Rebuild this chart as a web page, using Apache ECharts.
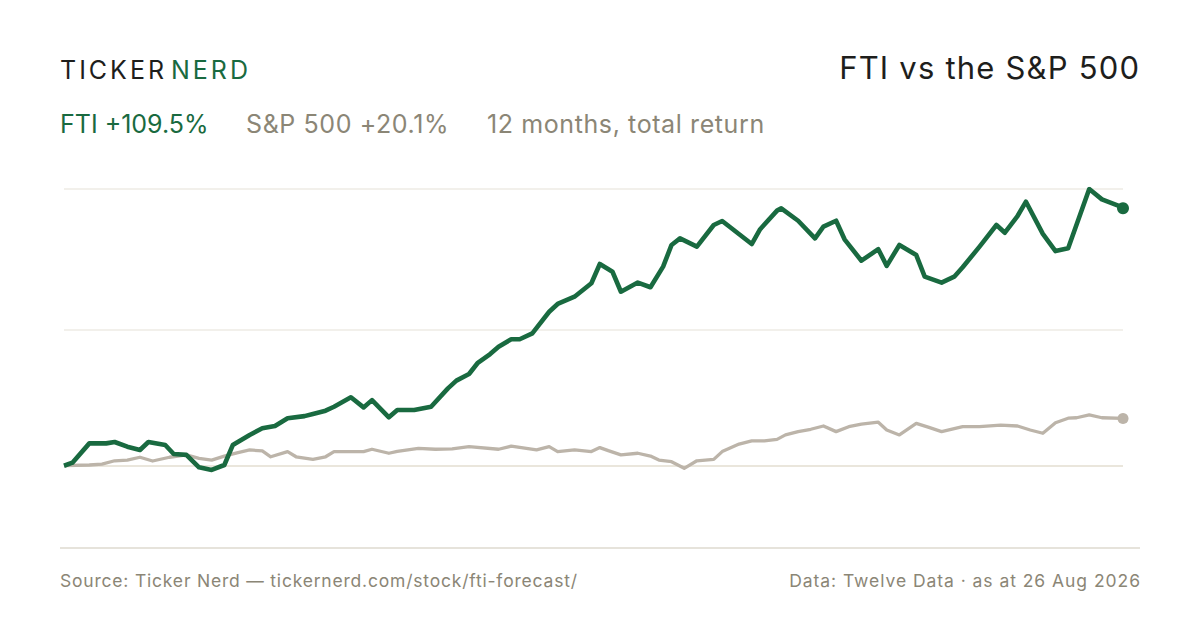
<!DOCTYPE html>
<html>
<head>
<meta charset="utf-8">
<script src="https://cdn.jsdelivr.net/npm/echarts@6/dist/echarts.min.js"></script>
<style>
  html, body { margin: 0; padding: 0; background: #ffffff; }
  #chart { width: 1200px; height: 630px; }
</style>
</head>
<body>
<div id="chart"></div>
<script>
// Trading-day index (0 = start of 12-month window) and cumulative total return, %
const ftiDays = [0,2,6,10,12,15,18,20,24,26,29,32,35,38,40,44,47,50,53,57,59,62,64,68,71,73,77,79,83,87,91,93,96,98,101,103,106,108,111,115,117,121,125,127,130,132,136,139,142,144,146,150,154,156,163,165,169,170,174,178,180,183,185,189,193,195,198,202,204,208,211,213,217,221,223,226,228,232,235,238,243,246,250,251];
const ftiValues = [0,1.3,9.5,9.5,10.1,8.1,6.7,10.1,8.8,5.0,4.6,-0.7,-1.8,0.3,8.8,13.1,15.9,16.9,20.2,21.1,22.0,23.4,25.1,29.1,24.8,27.9,20.6,23.7,23.7,25.1,32.9,36.2,39.0,43.6,47.5,50.6,53.8,53.8,56.3,65.5,68.8,71.9,77.6,85.8,82.5,74.0,77.9,75.9,84.7,93.9,96.7,93.2,102.4,104.1,94.3,100.6,108.5,109.5,104.2,96.7,101.7,104.2,96.3,87.2,92.1,85.0,93.9,89.6,80.4,77.9,80.4,84.4,93.2,102.4,99.1,106.2,112.3,98.6,91.3,92.5,117.7,113.3,110.5,109.5];

const spDays = [0,6,9,12,15,18,21,25,29,32,35,38,41,44,47,49,53,55,59,62,64,71,73,77,79,84,88,92,96,103,106,112,115,117,121,125,127,129,132,136,139,141,144,147,150,154,156,160,163,166,169,171,174,177,180,183,186,189,193,195,198,202,205,208,213,217,222,226,229,232,235,238,240,243,246,251];
const spValues = [0,0.3,0.7,2.1,2.4,3.6,2.0,3.6,4.6,3.1,2.4,4.1,5.5,6.7,6.3,3.8,6.0,3.8,2.7,3.8,6.0,6.0,7.0,5.3,6.1,7.4,7.0,7.2,8.1,7.0,8.3,6.7,8.1,6.0,6.7,6.0,7.7,6.4,4.6,5.3,4.1,2.4,1.7,-1.1,2.1,2.7,6.0,9.2,10.6,10.6,11.2,13.1,14.5,15.5,16.9,14.5,16.6,17.7,18.5,15.2,13.1,18.0,16.3,14.5,16.6,16.6,17.3,16.9,15.2,13.8,18.3,20.2,20.4,21.6,20.4,20.1];

// Horizontal reference lines (% return)
const gridTicks = [0, 58, 117.7];

const ftiLabel = 'FTI +109.5%';
const spLabel = 'S&P 500 +20.1%';
const periodLabel = '12 months, total return';
const titleText = 'FTI vs the S&P 500';
const sourceText = 'Source: Ticker Nerd \u2014 tickernerd.com/stock/fti-forecast/';
const dataText = 'Data: Twelve Data \u00b7 as at 26 Aug 2026';

const GREEN = '#196a40';
const GREY = '#bcb4a9';
const MUTED = '#8b8676';
const FONT = 'Inter, "Noto Sans", sans-serif';

const ftiData = ftiDays.map((d, i) => [d, ftiValues[i]]);
const spData = spDays.map((d, i) => [d, spValues[i]]);

const chart = echarts.init(document.getElementById('chart'), null, { renderer: 'svg' });

function lastOnly(size, n) {
  return function (val, params) { return params.dataIndex === n - 1 ? size : 0; };
}

function txt(text, x, y, size, color, align) {
  return {
    type: 'text', x: x, y: y, silent: true,
    style: { text: text, font: '400 ' + size + 'px ' + FONT, fill: color, textAlign: align || 'left', verticalAlign: 'middle' }
  };
}

chart.setOption({
  backgroundColor: '#ffffff',
  animation: false,
  grid: { left: 64, right: 77, top: 189, bottom: 82 },
  xAxis: { type: 'value', min: 0, max: 251, show: false, splitLine: { show: false } },
  yAxis: { type: 'value', min: -35, max: 117.7, show: false, splitLine: { show: false } },
  series: [
    {
      name: 'S&P 500',
      type: 'line',
      data: spData,
      z: 3,
      silent: true,
      showSymbol: true,
      symbol: 'circle',
      symbolSize: lastOnly(11, spData.length),
      itemStyle: { color: GREY },
      lineStyle: { color: GREY, width: 3.3, join: 'round' },
      markLine: {
        silent: true,
        z: 1,
        symbol: 'none',
        label: { show: false },
        data: gridTicks.map(v => ({
          yAxis: v,
          lineStyle: { color: v === 0 ? '#e3ded1' : '#eeebe5', width: 1.5, type: 'solid' }
        }))
      }
    },
    {
      name: 'FTI',
      type: 'line',
      data: ftiData,
      z: 4,
      silent: true,
      showSymbol: true,
      symbol: 'circle',
      symbolSize: lastOnly(12, ftiData.length),
      itemStyle: { color: GREEN },
      lineStyle: { color: GREEN, width: 4.6, join: 'round' }
    }
  ],
  graphic: [
    txt('TICKER', 60, 70, 25, '#1e1e1c'),
    txt('NERD', 171, 70, 25, GREEN),
    txt(titleText, 1139, 67, 31, '#1e1e1c', 'right'),
    txt(ftiLabel, 60, 124, 25, GREEN),
    txt(spLabel, 246, 124, 25, MUTED),
    txt(periodLabel, 487, 124, 25, MUTED),
    { type: 'line', silent: true, shape: { x1: 60, y1: 548, x2: 1140, y2: 548 }, style: { stroke: '#dedacf', lineWidth: 1.5 } },
    txt(sourceText, 60, 580, 17.5, MUTED),
    txt(dataText, 1140, 580, 17.5, MUTED, 'right')
  ]
});

// Letter-spacing per text (the reference typography is tracked out)
const spacing = {};
spacing['TICKER'] = 3;
spacing['NERD'] = 3;
spacing[titleText] = 1.2;
spacing[ftiLabel] = 0;
spacing[spLabel] = 0.6;
spacing[periodLabel] = 0.6;
spacing[sourceText] = 0.8;
spacing[dataText] = 0.95;

function applySpacing() {
  const nodes = document.querySelectorAll('#chart svg text');
  nodes.forEach(function (n) {
    const t = n.textContent;
    if (spacing[t] !== undefined) {
      n.style.letterSpacing = spacing[t] + 'px';
      if (n.getAttribute('text-anchor') === 'end') {
        // compensate for trailing spacing after the last glyph
        n.setAttribute('dx', String(spacing[t]));
      }
    }
  });
}
applySpacing();
chart.on('finished', applySpacing);
setTimeout(applySpacing, 0);
</script>
</body>
</html>
